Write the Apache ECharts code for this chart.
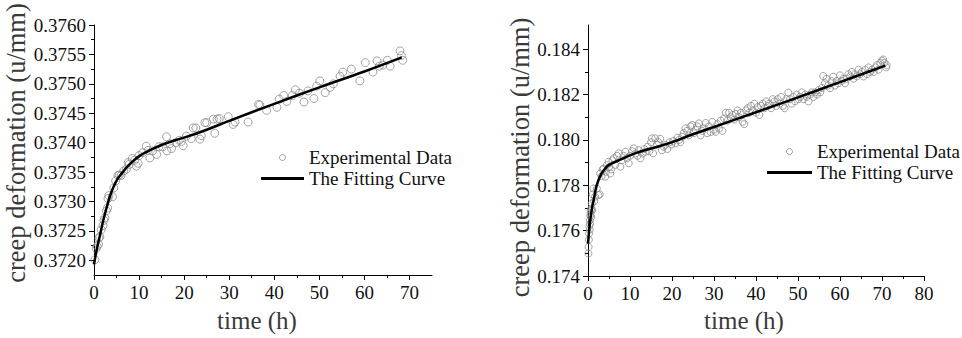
<!DOCTYPE html>
<html>
<head>
<meta charset="utf-8">
<title>creep deformation vs time</title>
<script src="https://cdn.jsdelivr.net/npm/echarts@6/dist/echarts.min.js"></script>
<style>
  html, body { margin: 0; padding: 0; background: #fff; }
  #chart { width: 962px; height: 338px; }
</style>
</head>
<body>
<div id="chart"></div>
<script>
// ---- left panel: [time (h), creep deformation (u/mm)] ----
const leftPoints = [
  [0.2, 0.37201], [0.5, 0.3722], [0.7, 0.37224], [1.0, 0.37227], [1.1, 0.37238], [1.3, 0.3724],
  [1.6, 0.37252], [2.0, 0.37259], [2.2, 0.37268], [2.4, 0.37272], [2.75, 0.37284], [3.0, 0.37289],
  [3.1, 0.37305], [3.3, 0.3731], [4.1, 0.37308], [4.4, 0.37323], [4.8, 0.37335], [5.3, 0.37344],
  [5.6, 0.37345], [6.0, 0.37344], [6.6, 0.37352], [7.2, 0.37355], [7.6, 0.37366], [7.8, 0.37363],
  [8.5, 0.37373], [9.0, 0.3737], [9.4, 0.3736], [9.8, 0.37365], [10.0, 0.37378], [10.8, 0.37383],
  [11.6, 0.37394], [12.0, 0.37387], [12.4, 0.37374], [13.0, 0.37386], [13.9, 0.3738], [14.4, 0.37393],
  [15.2, 0.37393], [16.1, 0.3741], [16.2, 0.37386], [16.8, 0.37398], [17.2, 0.3739], [18.2, 0.374],
  [18.9, 0.37404], [19.4, 0.37402], [19.8, 0.37395], [20.5, 0.37411], [21.6, 0.37407], [22.0, 0.37425],
  [22.6, 0.37425], [23.5, 0.37406], [23.8, 0.37412], [24.6, 0.37434], [25.0, 0.37434], [26.5, 0.3744],
  [26.8, 0.37416], [27.3, 0.3744], [27.8, 0.37441], [29.8, 0.37444], [30.9, 0.37431], [31.3, 0.37435],
  [34.2, 0.37435], [36.5, 0.37465], [36.8, 0.37464], [38.3, 0.37455], [40.6, 0.3746], [41.1, 0.37474],
  [42.1, 0.3748], [42.8, 0.3747], [44.0, 0.3748], [44.7, 0.3749], [45.6, 0.37484], [46.6, 0.37469],
  [47.5, 0.37488], [48.8, 0.37475], [49.4, 0.37496], [50.1, 0.37505], [51.3, 0.37485], [52.4, 0.37494],
  [53.1, 0.375], [54.6, 0.37513], [55.2, 0.3752], [57.1, 0.37525], [59.0, 0.37505], [60.2, 0.37536],
  [61.9, 0.3752], [62.8, 0.37539], [63.3, 0.3753], [64.1, 0.37532], [65.1, 0.3754], [65.7, 0.3753],
  [67.9, 0.37556], [68.2, 0.37548], [68.5, 0.3754]
];
const leftFit = [
  [0, 0.37193], [0.6, 0.37218], [1.25, 0.3724], [2.0, 0.37266], [2.75, 0.37288], [3.5, 0.37308],
  [4.3, 0.37324], [5.2, 0.37338], [6.3, 0.37349], [7.5, 0.3736], [8.7, 0.37369], [10.2, 0.37378],
  [12.4, 0.37387], [15, 0.37396], [18, 0.37404], [21, 0.37411], [25, 0.37422], [30, 0.37437],
  [40, 0.37466], [50, 0.37494], [60, 0.37521], [68.3, 0.37545]
];

// ---- right panel ----
const rightPoints = [
  [0.1, 0.17499], [0.15, 0.17528], [0.2, 0.1756], [0.25, 0.17587], [0.3, 0.1762], [0.4, 0.17605],
  [0.45, 0.17646], [0.5, 0.1763], [0.55, 0.17665], [0.6, 0.17676], [0.7, 0.1769], [0.75, 0.1766],
  [0.8, 0.17698], [0.9, 0.1772], [1.0, 0.1769], [1.1, 0.1776], [1.3, 0.17786], [1.5, 0.1773],
  [1.7, 0.1775], [2.1, 0.17786], [2.5, 0.17757], [2.8, 0.1776], [2.9, 0.17852], [3.2, 0.1784],
  [3.5, 0.1787], [3.7, 0.17874], [4.1, 0.17838], [4.3, 0.1786], [4.5, 0.17889], [4.9, 0.17904],
  [5.0, 0.1788], [5.3, 0.17852], [5.5, 0.1787], [5.8, 0.1791], [6.1, 0.17919], [6.5, 0.1789],
  [6.9, 0.1793], [7.3, 0.17941], [7.7, 0.17882], [8.0, 0.1791], [8.5, 0.1793], [8.9, 0.17948],
  [9.3, 0.1792], [9.7, 0.17897], [10.0, 0.1793], [10.5, 0.1795], [10.9, 0.17963], [11.3, 0.1794],
  [11.8, 0.1793], [12.1, 0.17955], [12.5, 0.17919], [13.0, 0.1794], [13.4, 0.1796], [13.7, 0.17948],
  [14.2, 0.1797], [14.6, 0.1795], [15.0, 0.1799], [15.2, 0.18007], [15.5, 0.17941], [16.0, 0.18007],
  [16.4, 0.1798], [16.8, 0.1799], [17.2, 0.18005], [17.6, 0.17955], [18.0, 0.1797], [18.4, 0.17978],
  [18.9, 0.1796], [19.4, 0.1799], [19.8, 0.1798], [20.3, 0.17995], [20.8, 0.17985], [21.3, 0.1801],
  [21.7, 0.18], [22.0, 0.1799], [22.4, 0.18014], [22.8, 0.1803], [23.2, 0.18051], [23.6, 0.1804],
  [24.0, 0.1802], [24.4, 0.1806], [24.8, 0.18066], [25.2, 0.1803], [25.6, 0.18045], [26.0, 0.1806],
  [26.4, 0.18073], [26.8, 0.1802], [27.2, 0.1804], [27.6, 0.18051], [28.0, 0.18075], [28.4, 0.1803],
  [28.8, 0.1806], [29.2, 0.18035], [29.6, 0.1808], [30.0, 0.18045], [30.4, 0.18036], [30.8, 0.1807],
  [31.2, 0.1805], [31.6, 0.18085], [32.0, 0.1804], [32.4, 0.18095], [32.8, 0.1812], [33.2, 0.18085],
  [33.6, 0.1812], [34.0, 0.181], [34.4, 0.1811], [34.8, 0.1809], [35.2, 0.18115], [35.6, 0.1813],
  [36.0, 0.181], [36.4, 0.1812], [36.8, 0.1808], [37.2, 0.1807], [37.6, 0.1813], [38.0, 0.1814],
  [38.4, 0.1812], [38.8, 0.1815], [39.2, 0.1813], [39.6, 0.1816], [40.0, 0.1812], [40.4, 0.18145],
  [40.8, 0.1811], [41.2, 0.1815], [41.6, 0.1816], [42.0, 0.1814], [42.4, 0.1817], [42.8, 0.1815],
  [43.2, 0.1816], [43.6, 0.1814], [44.0, 0.1818], [44.4, 0.1817], [44.8, 0.1815], [45.2, 0.1818],
  [45.6, 0.1816], [46.0, 0.1819], [46.4, 0.1815], [46.8, 0.1814], [47.2, 0.1818], [47.7, 0.18209],
  [48.1, 0.1818], [48.5, 0.1816], [48.9, 0.1819], [49.3, 0.1817], [49.7, 0.182], [50.1, 0.1818],
  [50.5, 0.1819], [50.9, 0.1821], [51.3, 0.1818], [51.7, 0.182], [52.1, 0.1819], [52.5, 0.1817],
  [52.9, 0.182], [53.3, 0.1821], [53.7, 0.1819], [54.1, 0.1821], [54.5, 0.182], [54.9, 0.1822],
  [55.3, 0.1821], [55.7, 0.1823], [56.0, 0.18282], [56.4, 0.1825], [56.8, 0.1827], [57.2, 0.1824],
  [57.6, 0.18228], [58.0, 0.1826], [58.4, 0.18279], [58.8, 0.1824], [59.2, 0.1826], [59.6, 0.1825],
  [60.0, 0.18285], [60.4, 0.1826], [60.8, 0.1827], [61.2, 0.1825], [61.6, 0.1827], [62.0, 0.1829],
  [62.4, 0.1828], [62.8, 0.183], [63.2, 0.1827], [63.6, 0.1829], [64.0, 0.1828], [64.4, 0.1831],
  [64.8, 0.1829], [65.2, 0.183], [65.6, 0.1828], [66.0, 0.1831], [66.4, 0.1829], [66.8, 0.1832],
  [67.2, 0.183], [67.6, 0.1831], [68.0, 0.183], [68.4, 0.1832], [68.8, 0.1833], [69.2, 0.1831],
  [69.6, 0.1834], [70.0, 0.1835], [70.3, 0.18355], [70.6, 0.1834], [71.0, 0.1832], [71.1, 0.1833]
];
const rightFit = [
  [0, 0.17543], [0.5, 0.1764], [1, 0.17705], [1.4, 0.1774], [2, 0.17795], [3, 0.17845],
  [4, 0.17872], [5, 0.1789], [7.3, 0.1791], [11, 0.1794], [15, 0.17962], [19.2, 0.17985],
  [25, 0.18025], [30, 0.18057], [40, 0.18122], [50, 0.18188], [60, 0.18255], [70.8, 0.18328]
];

// tick positions
const leftXTicks = [0, 10, 20, 30, 40, 50, 60, 70];
const leftXMinor = [5, 15, 25, 35, 45, 55, 65];
const leftYTicks = [0.372, 0.3725, 0.373, 0.3735, 0.374, 0.3745, 0.375, 0.3755, 0.376];
const leftYMinor = [0.37225, 0.37275, 0.37325, 0.37375, 0.37425, 0.37475, 0.37525, 0.37575];
const rightXTicks = [0, 10, 20, 30, 40, 50, 60, 70, 80];
const rightXMinor = [5, 15, 25, 35, 45, 55, 65, 75];
const rightYTicks = [0.174, 0.176, 0.178, 0.18, 0.182, 0.184];
const rightYMinor = [0.175, 0.177, 0.179, 0.181, 0.183];

const FONT = 'Liberation Serif';
const INK = '#111';
const TITLE = '#3a3a3a';

// main axis: line, major ticks, labels and name
function mainAxis(grid, pos, min, max, ticks, fmt, name, nameSize, nameGap, namePad) {
  return {
    type: 'value',
    gridIndex: grid,
    position: pos,
    min: min,
    max: max,
    axisLine: { show: true, onZero: false, lineStyle: { color: '#000', width: 1 } },
    axisTick: { show: true, length: 5, customValues: ticks, lineStyle: { color: '#000' } },
    axisLabel: {
      customValues: ticks,
      formatter: fmt,
      margin: 8,
      fontFamily: FONT,
      fontSize: 19,
      color: INK,
    },
    splitLine: { show: false },
    name: name,
    nameLocation: 'middle',
    nameGap: nameGap,
    // padding nudges the title along its axis
    nameTextStyle: { fontFamily: FONT, fontSize: nameSize, color: TITLE, padding: namePad },
  };
}

// overlay axis that only carries the short minor ticks
function minorAxis(grid, pos, min, max, ticks) {
  return {
    type: 'value',
    gridIndex: grid,
    position: pos,
    min: min,
    max: max,
    axisLine: { show: false, onZero: false },
    axisTick: { show: true, length: 3, customValues: ticks, lineStyle: { color: '#000' } },
    axisLabel: { show: false },
    splitLine: { show: false },
  };
}

function legendFor(left, top, width) {
  return {
    orient: 'vertical',
    left: left,
    top: top,
    padding: 0,
    itemWidth: width,
    itemHeight: 6,
    itemGap: 2,
    selectedMode: false,
    textStyle: { fontFamily: FONT, fontSize: 19, color: INK, lineHeight: 19 },
    data: [
      {
        name: 'Experimental Data',
        icon: 'circle',
        itemStyle: { color: 'rgba(0,0,0,0)', borderColor: '#8c8c8c', borderWidth: 1 },
      },
      {
        name: 'The Fitting Curve',
        icon: 'path://M0,0H44V3H0Z',
        itemStyle: { color: '#000', borderWidth: 0 },
      },
    ],
  };
}

function scatter(xi, data, size) {
  return {
    type: 'scatter',
    name: 'Experimental Data',
    xAxisIndex: xi,
    yAxisIndex: xi,
    data: data,
    symbol: 'circle',
    symbolSize: size,
    clip: false,
    itemStyle: { color: 'rgba(0,0,0,0)', borderColor: '#8c8c8c', borderWidth: 1 },
    z: 2,
  };
}

function fitLine(xi, data) {
  return {
    type: 'line',
    name: 'The Fitting Curve',
    xAxisIndex: xi,
    yAxisIndex: xi,
    data: data,
    symbol: 'none',
    showSymbol: false,
    smooth: 0.4,
    clip: false,
    lineStyle: { color: '#000', width: 2.5 },
    z: 3,
  };
}

const chart = echarts.init(document.getElementById('chart'), null, { renderer: 'svg' });

chart.setOption({
  animation: false,
  backgroundColor: '#fff',
  grid: [
    { left: 94, top: 25, width: 338, height: 251 },
    { left: 588, top: 25, width: 336, height: 251 },
  ],
  xAxis: [
    mainAxis(0, 'bottom', 0, 75, leftXTicks, (v) => String(v), 'time (h)', 25, 33, [0, 12, 0, 0]),
    minorAxis(0, 'bottom', 0, 75, leftXMinor),
    mainAxis(1, 'bottom', 0, 80, rightXTicks, (v) => String(v), 'time (h)', 25, 26, [0, 24, 0, 0]),
    minorAxis(1, 'bottom', 0, 80, rightXMinor),
  ],
  yAxis: [
    mainAxis(0, 'left', 0.37175, 0.376, leftYTicks, (v) => v.toFixed(4),
      'creep deformation (u/mm)', 26.5, 52, [0, 0, 0, 14]),
    minorAxis(0, 'left', 0.37175, 0.376, leftYMinor),
    mainAxis(1, 'left', 0.174, 0.18507, rightYTicks, (v) => v.toFixed(3),
      'creep deformation (u/mm)', 26.5, 51, [0, 14, 0, 0]),
    minorAxis(1, 'left', 0.174, 0.18507, rightYMinor),
  ],
  legend: [legendFor(261, 148, 43), legendFor(767, 142, 45)],
  series: [
    scatter(0, leftPoints, 8),
    fitLine(0, leftFit),
    scatter(2, rightPoints, 7),
    fitLine(2, rightFit),
  ],
});
</script>
</body>
</html>
